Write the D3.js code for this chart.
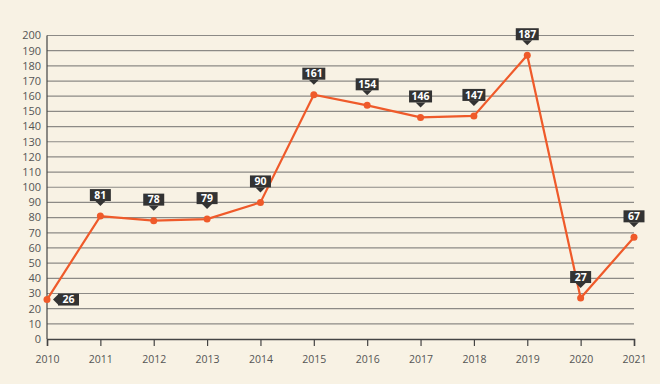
<!DOCTYPE html>
<html>
<head>
<meta charset="utf-8">
<script src="https://cdn.jsdelivr.net/npm/d3@7"></script>
<style>
  body { margin: 0; background: #f8f2e4; }
  svg { display: block; font-family: "Open Sans", "Noto Sans", sans-serif; }
</style>
</head>
<body>
<div id="chart"></div>
<script>
// Data
const years = [2010, 2011, 2012, 2013, 2014, 2015, 2016, 2017, 2018, 2019, 2020, 2021];
const values = [26, 81, 78, 79, 90, 161, 154, 146, 147, 187, 27, 67];
const yTicks = d3.range(0, 201, 10);

const width = 660, height = 384;
const margin = { top: 35.5, right: 26, bottom: 45, left: 47 };

const svg = d3.select('#chart')
    .append('svg')
    .attr('width', width)
    .attr('height', height);

const x = d3.scaleLinear()
    .domain([2010, 2021])
    .range([margin.left, width - margin.right]);

const y = d3.scaleLinear()
    .domain([0, 200])
    .range([height - margin.bottom, margin.top]);

// Grid lines
svg.append('g')
    .selectAll('line')
    .data(yTicks.filter(d => d > 0))
    .enter()
    .append('line')
    .attr('x1', x(2010))
    .attr('x2', x(2021))
    .attr('y1', d => y(d))
    .attr('y2', d => y(d))
    .attr('stroke', '#8c8a86')
    .attr('stroke-width', 1.2);

// Y axis line + labels
svg.append('line')
    .attr('x1', x(2010)).attr('x2', x(2010))
    .attr('y1', y(200)).attr('y2', y(0))
    .attr('stroke', '#444').attr('stroke-width', 1.2);

svg.append('g')
    .selectAll('text')
    .data(yTicks)
    .enter()
    .append('text')
    .attr('x', x(2010) - 6)
    .attr('y', d => y(d))
    .attr('dy', '0.35em')
    .attr('text-anchor', 'end')
    .attr('font-size', 11)
    .attr('fill', '#555')
    .text(d => d);

// X axis
const xAxis = svg.append('g')
    .attr('transform', `translate(0, ${y(0)})`)
    .call(d3.axisBottom(x).tickValues(years).tickFormat(d3.format('d')).tickSize(7).tickPadding(10));
xAxis.select('.domain').attr('stroke', '#444').attr('stroke-width', 1.5);
xAxis.selectAll('.tick line').attr('stroke', '#444').attr('stroke-width', 1.2);
xAxis.selectAll('text')
    .attr('font-size', 10.5)
    .attr('fill', '#555')
    .attr('font-family', '"Open Sans", "Noto Sans", sans-serif');

// Line
const points = years.map((yr, i) => ({ year: yr, value: values[i] }));
svg.append('path')
    .datum(points)
    .attr('fill', 'none')
    .attr('stroke', '#ef5a2a')
    .attr('stroke-width', 2.2)
    .attr('d', d3.line().x(d => x(d.year)).y(d => y(d.value)));

svg.append('g')
    .selectAll('circle')
    .data(points)
    .enter()
    .append('circle')
    .attr('cx', d => x(d.year))
    .attr('cy', d => y(d.value))
    .attr('r', 3.5)
    .attr('fill', '#ef5a2a');

// Value labels (dark callouts)
const boxH = 12, gap = 10, ptr = 5;
const labels = svg.append('g')
    .selectAll('g')
    .data(points)
    .enter()
    .append('g');

labels.each(function(d, i) {
    const g = d3.select(this);
    const px = x(d.year), py = y(d.value);
    const txt = String(d.value);
    const w = txt.length > 2 ? 23 : 21;
    if (i === 0) {
        // label to the right, pointer pointing left
        const bx = px + 11, by = py - boxH / 2;
        g.append('rect').attr('x', bx).attr('y', by).attr('width', w).attr('height', boxH).attr('fill', '#333');
        g.append('path')
            .attr('d', `M${bx},${py - ptr} L${bx - ptr},${py} L${bx},${py + ptr} Z`)
            .attr('fill', '#333');
        g.append('text').attr('x', bx + w / 2).attr('y', py).attr('dy', '0.36em')
            .attr('text-anchor', 'middle').attr('font-size', 10.5).attr('font-weight', 'bold')
            .attr('fill', '#fff').text(txt);
    } else {
        const tipY = py - gap;
        const by = tipY - ptr - boxH;
        const bx = px - w / 2;
        g.append('rect').attr('x', bx).attr('y', by).attr('width', w).attr('height', boxH).attr('fill', '#333');
        g.append('path')
            .attr('d', `M${px - ptr},${by + boxH} L${px},${tipY} L${px + ptr},${by + boxH} Z`)
            .attr('fill', '#333');
        g.append('text').attr('x', px).attr('y', by + boxH / 2).attr('dy', '0.36em')
            .attr('text-anchor', 'middle').attr('font-size', 10.5).attr('font-weight', 'bold')
            .attr('fill', '#fff').text(txt);
    }
});
</script>
</body>
</html>
